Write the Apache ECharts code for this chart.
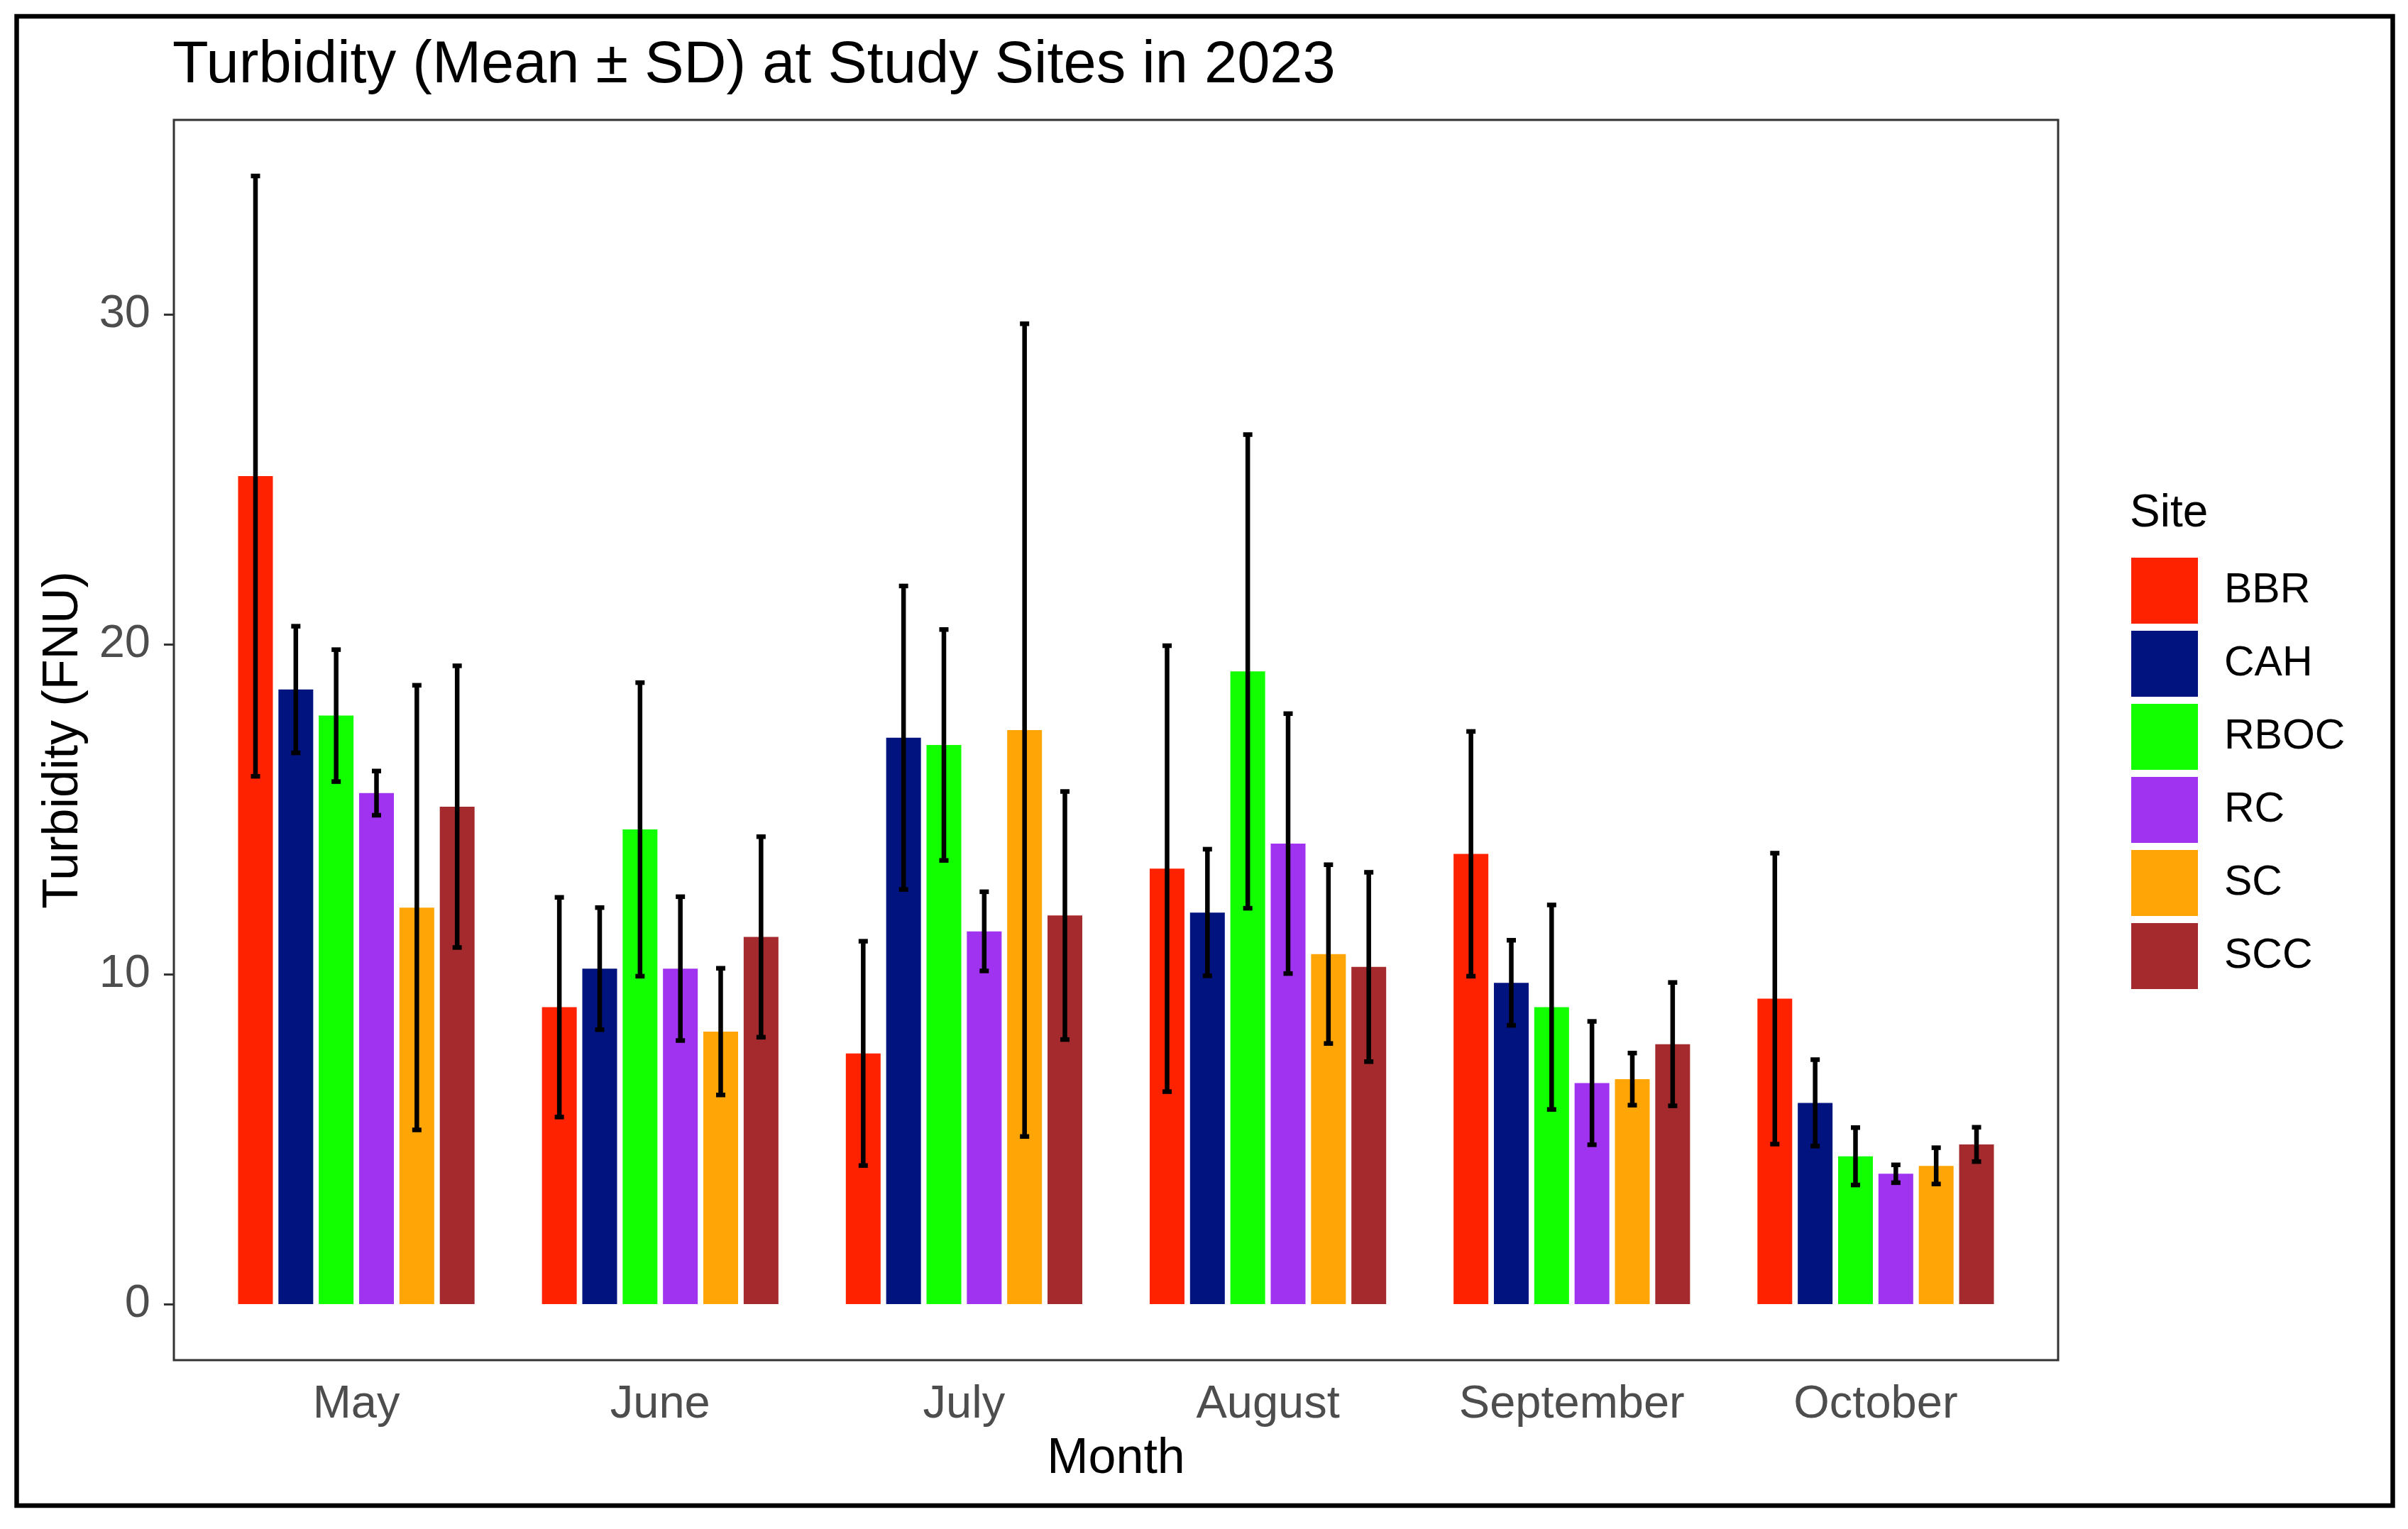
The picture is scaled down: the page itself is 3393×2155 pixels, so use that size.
<!DOCTYPE html>
<html>
<head>
<meta charset="utf-8">
<title>Turbidity 2023</title>
<script src="https://cdn.jsdelivr.net/npm/echarts@6/dist/echarts.min.js"></script>
<style>
  html, body { margin: 0; padding: 0; background: #fff; }
  #chart { width: 3393px; height: 2155px; }
</style>
</head>
<body>
<div id="chart"></div>
<script>
// months on the x axis, sites in the legend
var months = ['May', 'June', 'July', 'August', 'September', 'October'];
var sites = ['BBR', 'CAH', 'RBOC', 'RC', 'SC', 'SCC'];
var yTicks = [0, 10, 20, 30];

// mean turbidity per site (FNU), one value per month
var meanBBR = [25.1, 9.0, 7.6, 13.2, 13.65, 9.26];
var meanCAH = [18.63, 10.17, 17.17, 11.87, 9.74, 6.1];
var meanRBOC = [17.84, 14.39, 16.95, 19.18, 9.0, 4.48];
var meanRC = [15.49, 10.17, 11.3, 13.96, 6.7, 3.95];
var meanSC = [12.02, 8.26, 17.4, 10.61, 6.82, 4.19];
var meanSCC = [15.08, 11.13, 11.78, 10.22, 7.88, 4.84];

// standard deviations, same order
var sdBBR = [9.1, 3.33, 3.4, 6.76, 3.71, 4.41];
var sdCAH = [1.92, 1.85, 4.6, 1.92, 1.29, 1.31];
var sdRBOC = [2.0, 4.45, 3.5, 7.18, 3.1, 0.87];
var sdRC = [0.67, 2.18, 1.2, 3.94, 1.87, 0.27];
var sdSC = [6.74, 1.92, 12.32, 2.71, 0.79, 0.55];
var sdSCC = [4.27, 3.04, 3.76, 2.87, 1.87, 0.52];

var means = [meanBBR, meanCAH, meanRBOC, meanRC, meanSC, meanSCC];
var sds = [sdBBR, sdCAH, sdRBOC, sdRC, sdSC, sdSCC];
var colors = ['#FF2200', '#00137F', '#12FF00', '#A033EF', '#FFA506', '#A52A2D'];

var FONT = 'Liberation Sans, Arial, Helvetica, sans-serif';
var BAR_W = 49;
var BAR_GAP = 0.16;

var chart = echarts.init(document.getElementById('chart'), null, { renderer: 'canvas' });

var series = [];
sites.forEach(function (s, i) {
  series.push({
    name: s,
    type: 'bar',
    barWidth: BAR_W,
    barGap: (BAR_GAP * 100) + '%',
    itemStyle: { color: colors[i] },
    data: means[i],
    z: 2
  });
});

// error bars, drawn on top of the dodged bars
sites.forEach(function (s, i) {
  var offset = (i - 2.5) * BAR_W * (1 + BAR_GAP);
  series.push({
    name: s + ' sd',
    type: 'custom',
    z: 5,
    encode: { x: 0, y: [1, 2] },
    data: months.map(function (m, j) {
      return [j, means[i][j] - sds[i][j], means[i][j] + sds[i][j]];
    }),
    renderItem: function (params, api) {
      var lo = api.coord([api.value(0), api.value(1)]);
      var hi = api.coord([api.value(0), api.value(2)]);
      var x = lo[0] + offset;
      var half = 6.5;
      var style = { stroke: '#000', lineWidth: 6.5 };
      return {
        type: 'group',
        children: [
          { type: 'line', shape: { x1: x, y1: hi[1], x2: x, y2: lo[1] }, style: style },
          { type: 'line', shape: { x1: x - half, y1: hi[1], x2: x + half, y2: hi[1] }, style: style },
          { type: 'line', shape: { x1: x - half, y1: lo[1], x2: x + half, y2: lo[1] }, style: style }
        ]
      };
    }
  });
});

var option = {
  backgroundColor: '#fff',
  animation: false,
  textStyle: { fontFamily: FONT },
  title: [{
    text: 'Turbidity (Mean \u00b1 SD) at Study Sites in 2023',
    left: 243,
    top: 52,
    padding: 0,
    textStyle: { fontFamily: FONT, fontSize: 83, fontWeight: 'normal', color: '#000' }
  }, {
    text: 'Site',
    left: 3001,
    top: 692,
    padding: 0,
    textStyle: { fontFamily: FONT, fontSize: 64, fontWeight: 'normal', color: '#000' }
  }],
  legend: {
    data: sites,
    orient: 'vertical',
    left: 3003,
    top: 786,
    padding: 0,
    icon: 'rect',
    itemWidth: 94,
    itemHeight: 93,
    itemGap: 10,
    selectedMode: false,
    textStyle: { fontFamily: FONT, fontSize: 59, color: '#000', padding: [22, 0, 0, 32] }
  },
  grid: {
    left: 288,
    right: 536,
    top: 169,
    bottom: 238,
    containLabel: false
  },
  xAxis: {
    type: 'category',
    data: months,
    axisLine: { show: false },
    axisTick: { alignWithLabel: true, length: 14, lineStyle: { color: '#333', width: 3 } },
    axisLabel: { fontFamily: FONT, fontSize: 65, color: '#4D4D4D', margin: 31 },
    splitLine: { show: false },
    name: 'Month',
    nameLocation: 'middle',
    nameGap: 105,
    nameTextStyle: { fontFamily: FONT, fontSize: 70, color: '#000' }
  },
  yAxis: {
    type: 'value',
    min: -1.7,
    max: 35.9,
    offset: 43,
    axisLine: { show: false },
    splitLine: { show: false },
    axisTick: { show: true, length: 14, customValues: yTicks, lineStyle: { color: '#333', width: 3 } },
    axisLabel: { fontFamily: FONT, fontSize: 65, color: '#4D4D4D', margin: 33, customValues: yTicks },
    name: 'Turbidity (FNU)',
    nameLocation: 'middle',
    nameGap: 120,
    nameRotate: 90,
    nameTextStyle: { fontFamily: FONT, fontSize: 70, color: '#000' }
  },
  graphic: [{
    type: 'rect',
    z: 100,
    shape: { x: 245, y: 169, width: 2655, height: 1748 },
    style: { fill: 'none', stroke: '#333', lineWidth: 3 }
  }, {
    type: 'rect',
    z: 100,
    shape: { x: 23.5, y: 23, width: 3348, height: 2099 },
    style: { fill: 'none', stroke: '#000', lineWidth: 6.5 }
  }],
  series: series
};

chart.setOption(option);
</script>
</body>
</html>
